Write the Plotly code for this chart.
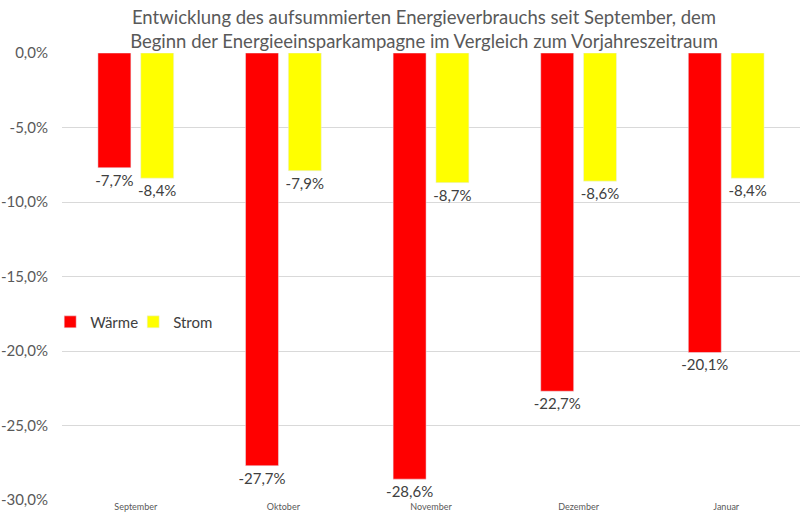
import plotly.graph_objects as go

months = ["September", "Oktober", "November", "Dezember", "Januar"]
waerme = [-7.7, -27.7, -28.6, -22.7, -20.1]
strom = [-8.4, -7.9, -8.7, -8.6, -8.4]
tick_vals = [0, -5, -10, -15, -20, -25, -30]
tick_text = ["0,0%", "-5,0%", "-10,0%", "-15,0%", "-20,0%", "-25,0%", "-30,0%"]
title_lines = ["Entwicklung des aufsummierten Energieverbrauchs seit September, dem",
               "Beginn der Energieeinsparkampagne im Vergleich zum Vorjahreszeitraum"]

def fmt(v):
    return f"{v:.1f}%".replace(".", ",")

FONT = "Lato"
GREY = "#404040"

fig = go.Figure()
fig.add_trace(go.Bar(name="Wärme", x=months, y=waerme, marker_color="#ff0000",
                     text=[fmt(v) for v in waerme], textposition="outside", constraintext="none",
                     textfont=dict(size=15, color=GREY, family=FONT), cliponaxis=False))
fig.add_trace(go.Bar(name="Strom", x=months, y=strom, marker_color="#ffff00",
                     text=[fmt(v) for v in strom], textposition="outside", constraintext="none",
                     textfont=dict(size=15, color=GREY, family=FONT), cliponaxis=False))

fig.update_layout(
    width=800, height=523,
    margin=dict(l=62, r=0, t=53, b=23, autoexpand=False),
    paper_bgcolor="white", plot_bgcolor="white",
    barmode="group", bargap=0.42, bargroupgap=0.23,
    title=dict(text="<br>".join(title_lines), x=0.53, xanchor="center", y=0.955, yanchor="middle",
               font=dict(family=FONT, size=18.5, color="#595959")),
    font=dict(family=FONT, color=GREY),
    legend=dict(orientation="h", x=-0.016, xanchor="left", y=0.398, yanchor="middle",
                font=dict(size=15, color=GREY, family=FONT), bgcolor="rgba(0,0,0,0)",
                traceorder="normal", entrywidth=38, itemwidth=30),
    showlegend=True,
)
fig.update_yaxes(range=[-30, 0], tickvals=tick_vals, ticktext=tick_text,
                 showgrid=True, gridcolor="#d9d9d9", gridwidth=1, zeroline=False,
                 showline=False, ticks="", tickfont=dict(size=15, color="#595959", family=FONT),
                 ticklabelstandoff=13)
fig.update_xaxes(showgrid=False, showline=False, ticks="",
                 tickfont=dict(size=9, color="#595959", family=FONT), side="bottom")

fig.write_html("out.html", config={"displayModeBar": False},
               post_script="document.body.style.margin='0';")
